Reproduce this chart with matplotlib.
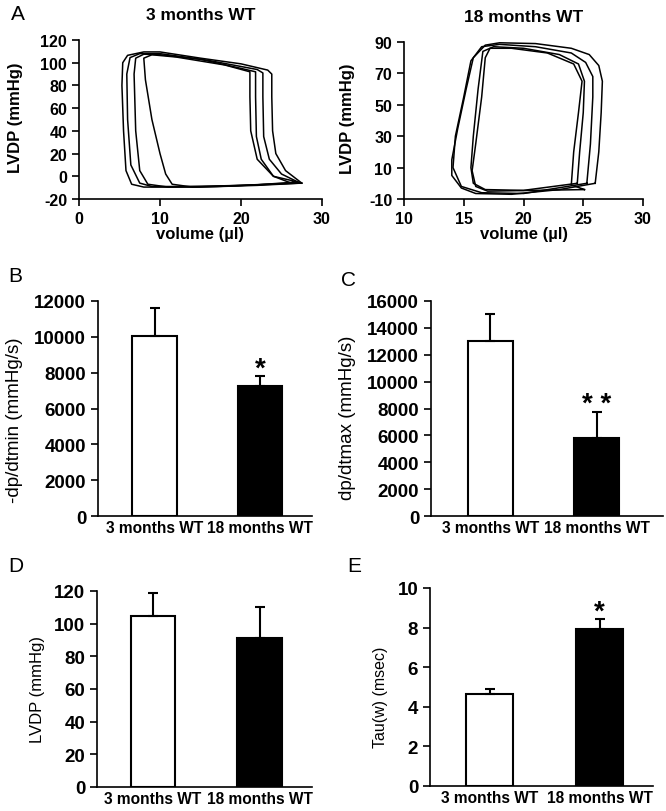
import matplotlib
matplotlib.use('Agg')
import matplotlib.pyplot as plt
import numpy as np

plt.rcParams['font.family'] = ['Liberation Sans', 'DejaVu Sans']
plt.rcParams['axes.unicode_minus'] = False

# --- data --------------------------------------------------------------
groups = ['3 months WT', '18 months WT']

dpdt_min = [10020, 7280]
dpdt_min_err = [1600, 540]
dpdt_max = [12990, 5800]
dpdt_max_err = [2010, 1960]
lvdp = [105, 91]
lvdp_err = [14, 19.5]
tau = [4.66, 7.95]
tau_err = [0.26, 0.5]

# pressure-volume loops, (volume ul, pressure mmHg)
loops_3m = [
    [(27.5, -6), (25.5, 5), (24.3, 20), (23.9, 40), (23.8, 70), (23.8, 90), (23.3, 93.5),
     (20, 99), (15, 104), (10, 109.5), (8, 109.5), (6, 106.5), (5.4, 100), (5.3, 80),
     (5.5, 40), (5.8, 5), (6.5, -7), (8, -9.5), (15, -9.5), (22, -8), (27.5, -6)],
    [(27.3, -6), (25, 2), (23.5, 15), (22.8, 35), (22.7, 70), (22.7, 91), (22, 94),
     (16, 102), (10, 108), (7.5, 108), (6.3, 104.5), (5.9, 90), (6.0, 50), (6.4, 10),
     (7.5, -6), (9, -9), (17, -9), (27.3, -6)],
    [(26.2, -6), (24, 0), (22.5, 15), (21.9, 35), (21.8, 70), (21.8, 92), (20, 95),
     (15, 103), (10, 107), (8, 107.5), (7.0, 104), (6.8, 90), (7.0, 40), (7.5, 5),
     (8.5, -7), (11, -9.5), (20, -8), (26.2, -6)],
    [(27.0, -5), (24, 0), (22, 15), (21.2, 40), (21.1, 70), (21.1, 92), (18, 98),
     (12, 105), (9, 107), (8.0, 104), (8.2, 85), (9, 50), (10, 20), (10.7, 2),
     (11.5, -7), (14, -9.5), (22, -7.5), (27.0, -5)],
]

loops_18m = [
    [(26.0, 0), (26.3, 20), (26.5, 45), (26.6, 65), (26.3, 75), (25.5, 82), (24, 86),
     (21, 89), (18, 89.5), (16.8, 88), (15.8, 80), (15.2, 60), (14.5, 35), (14.0, 15),
     (14.0, 5), (14.8, -3), (16, -6.5), (19, -7), (23, -4), (26.0, 0)],
    [(25.3, 0), (25.6, 25), (25.8, 55), (25.8, 68), (25.2, 77), (24, 83), (21, 87),
     (18, 88.5), (16.5, 87), (15.6, 78), (15.0, 55), (14.3, 30), (14.1, 10), (14.8, -2),
     (16.5, -6), (20, -6.5), (25.3, 0)],
    [(24.5, 0), (24.7, 20), (25.0, 45), (25.1, 65), (24.6, 76), (23, 82), (20, 86),
     (17.5, 87), (16.6, 84), (16.2, 60), (15.8, 30), (15.6, 10), (15.8, 0), (16.8, -4),
     (20, -4.5), (24.5, 0)],
    [(25.1, -4), (24.0, -1), (24.2, 20), (24.6, 45), (24.9, 65), (24.2, 76), (22, 83),
     (19, 86), (17.2, 86), (16.8, 80), (16.5, 55), (16.0, 25), (15.7, 8), (16.0, -2),
     (17, -5), (21, -4.5), (25.1, -4)],
]

# --- figure ------------------------------------------------------------
W, H = 666, 812
fig = plt.figure(figsize=(W / 100, H / 100), dpi=100)


def px_axes(x0, x1, ytop, ybot):
    return fig.add_axes([x0 / W, 1 - ybot / H, (x1 - x0) / W, (ybot - ytop) / H])


def style(ax, tick_size):
    for s in ['top', 'right']:
        ax.spines[s].set_visible(False)
    for s in ['left', 'bottom']:
        ax.spines[s].set_linewidth(1.2)
    ax.tick_params(axis='both', direction='out', length=5, width=1.2)
    ax.tick_params(axis='y', labelsize=tick_size)
    for lab in ax.get_yticklabels():
        lab.set_fontweight('bold')


def pv_panel(ax, loops, title, xlim, ylim, yticks, ylab_x):
    for loop in loops:
        v, p = zip(*loop)
        ax.plot(v, p, color='black', lw=1.1)
    ax.set_xlim(*xlim)
    ax.set_ylim(*ylim)
    ax.set_xticks(np.arange(xlim[0], xlim[1] + 1, 5 if xlim[0] == 10 else 10))
    ax.set_yticks(yticks)
    ax.set_title(title, fontsize=12.5, fontweight='bold', pad=15)
    ax.set_xlabel('volume (\u00b5l)', fontsize=12, fontweight='bold', labelpad=0)
    ax.set_ylabel('LVDP (mmHg)', fontsize=12, fontweight='bold', va='center')
    ax.yaxis.set_label_coords(ylab_x, 0.52)
    style(ax, 11.5)
    ax.tick_params(axis='x', labelsize=11.5)
    for lab in ax.get_xticklabels():
        lab.set_fontweight('bold')


def bar_panel(ax, vals, errs, ylabel, ylab_size, ylim, yticks, xlim, ylab_x, ylab_y,
              star=None):
    x = np.arange(len(groups))
    ax.bar(x, vals, width=0.42, color=['white', 'black'], edgecolor='black', lw=1.5,
           zorder=2)
    ax.errorbar(x, vals, yerr=[[0, 0], errs], fmt='none', ecolor='black', elinewidth=1.5,
                capsize=3.5, capthick=1.5, zorder=3)
    ax.set_xlim(*xlim)
    ax.set_ylim(*ylim)
    ax.set_yticks(yticks)
    ax.set_xticks(x)
    ax.set_xticklabels(groups, fontsize=11.2, fontweight='bold')
    ax.set_ylabel(ylabel, fontsize=ylab_size, va='center')
    ax.yaxis.set_label_coords(ylab_x, ylab_y)
    style(ax, 13.5)
    ax.tick_params(axis='x', length=0, pad=3)
    if star:
        top = vals[1] + errs[1]
        ax.annotate(star, (1, top), xytext=(0, -4), textcoords='offset points',
                    ha='center', va='bottom', fontsize=20, fontweight='bold')


# A
axA1 = px_axes(79, 322, 41, 200)
pv_panel(axA1, loops_3m, '3 months WT', (0, 30), (-20, 120), np.arange(-20, 121, 20), -0.263)
axA2 = px_axes(404, 643, 43, 200)
pv_panel(axA2, loops_18m, '18 months WT', (10, 30), (-10, 90), np.arange(-10, 91, 20), -0.238)

# B
axB = px_axes(98, 312, 302, 517)
bar_panel(axB, dpdt_min, dpdt_min_err, '-dp/dtmin (mmHg/s)', 13.5, (0, 12000),
          np.arange(0, 12001, 2000), (-0.536, 1.493), -0.388, 0.45, star='*')
# C
axC = px_axes(431, 663, 302, 517)
bar_panel(axC, dpdt_max, dpdt_max_err, 'dp/dtmax (mmHg/s)', 13.5, (0, 16000),
          np.arange(0, 16001, 2000), (-0.561, 1.627), -0.362, 0.46, star='* *')
# D
axD = px_axes(97, 312, 592, 788)
bar_panel(axD, lvdp, lvdp_err, 'LVDP (mmHg)', 12, (0, 120),
          np.arange(0, 121, 20), (-0.526, 1.493), -0.279, 0.5)
# E
axE = px_axes(430, 653, 589, 787)
bar_panel(axE, tau, tau_err, 'Tau(w) (msec)', 11.5, (0, 10),
          np.arange(0, 11, 2), (-0.541, 1.486), -0.224, 0.455, star='*')

# panel letters
for letter, (x, y) in zip('ABCDE', [(18, 14), (15, 277), (348, 280), (16, 567), (354, 567)]):
    fig.text(x / W, 1 - y / H, letter, fontsize=15, ha='center', va='center')

fig.savefig('out.png', dpi=100)
